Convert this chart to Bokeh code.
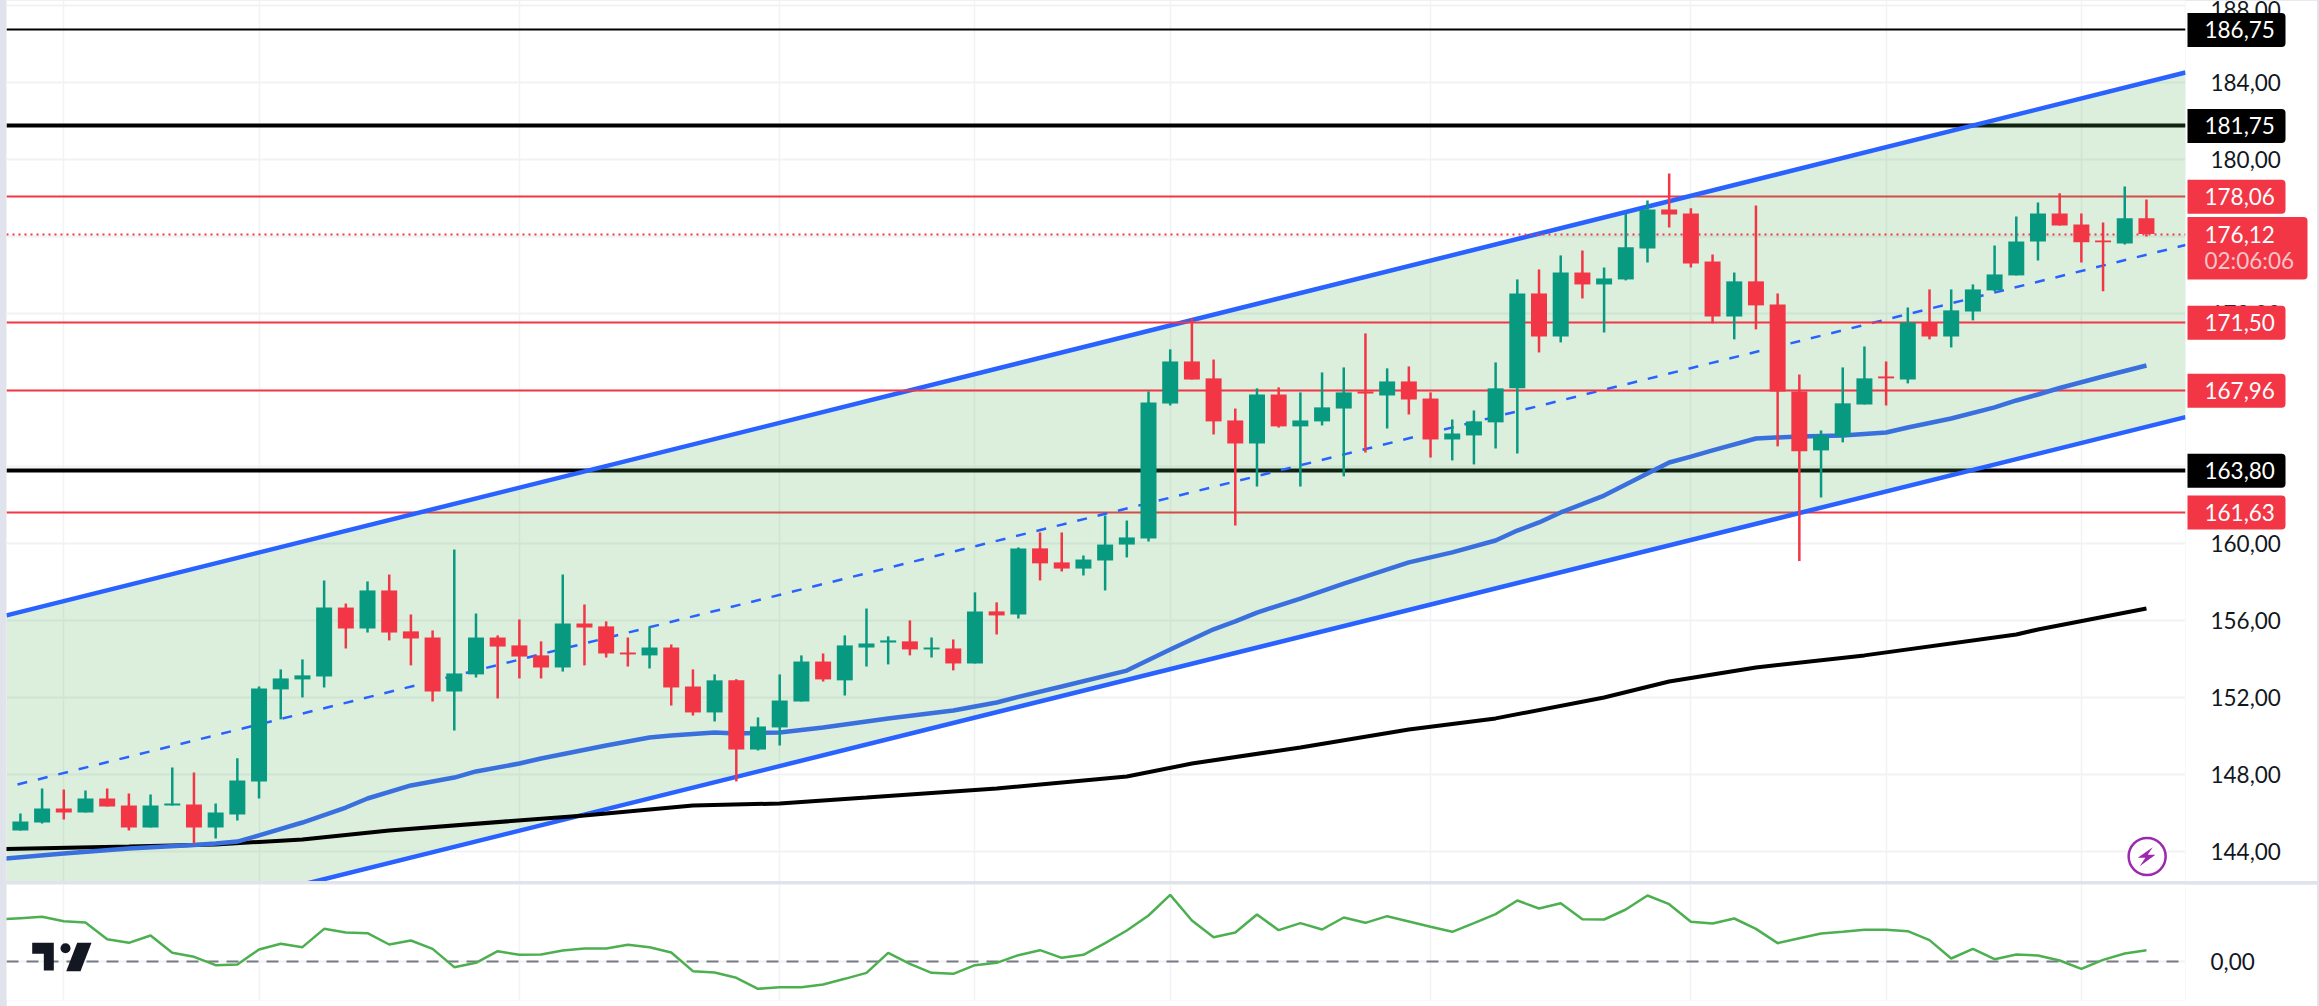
from bokeh.plotting import figure
from bokeh.layouts import column, row
from bokeh.models import Range1d, FixedTicker, ColumnDataSource
from bokeh.core.properties import value
from bokeh.embed import file_html
from bokeh.resources import INLINE

# ---------- chart values ----------
opens = [145.07,145.49,146.22,146.01,146.74,146.38,145.23,146.38,146.43,145.23,
         145.91,147.63,152.42,152.94,153.09,156.68,155.59,157.57,155.44,155.12,
         152.31,153.20,155.12,154.71,154.19,153.56,155.85,155.70,154.34,154.19,
         154.60,152.57,151.22,152.89,149.29,150.44,151.79,153.87,152.89,154.60,
         154.86,154.92,154.50,154.55,153.77,156.48,156.32,159.76,159.03,158.71,
         159.13,159.96,160.28,167.30,169.49,168.61,166.42,165.22,167.77,166.11,
         166.37,167.04,167.93,167.72,168.45,167.56,165.43,165.64,166.32,168.09,
         173.03,170.79,174.12,173.50,173.76,175.37,177.40,177.19,174.70,171.83,
         173.66,172.46,167.93,164.86,165.59,167.25,168.71,168.55,171.52,170.79,
         172.09,173.19,173.97,175.74,177.19,176.62,175.79,175.63,176.94]
highs = [145.96,147.26,147.21,147.16,147.26,147.00,146.95,148.36,148.10,146.48,
         148.83,152.57,153.46,153.98,158.09,156.89,158.04,158.40,156.32,155.49,
         159.70,156.37,155.23,156.06,154.92,158.40,156.84,155.96,155.12,155.70,
         154.76,153.46,153.20,152.95,150.96,153.20,154.19,154.29,155.23,156.63,
         155.18,156.01,155.12,155.02,157.47,156.95,159.81,160.59,160.59,159.39,
         161.47,161.21,167.93,170.12,171.73,169.59,167.04,168.09,168.14,167.88,
         168.92,169.18,170.95,169.13,169.23,167.88,166.47,166.94,169.44,173.76,
         174.28,175.01,175.27,174.38,177.19,177.87,179.28,177.46,175.06,174.12,
         177.61,173.03,168.81,165.90,169.18,170.27,169.49,172.30,173.24,173.24,
         173.50,175.53,177.04,177.77,178.24,177.19,176.73,178.60,177.92]
lows = [145.07,145.44,145.65,146.01,146.32,145.07,145.23,146.38,144.40,144.66,
        145.60,146.74,150.86,152.00,152.52,154.55,155.38,154.97,153.67,151.79,
        150.28,153.04,151.95,152.99,152.99,153.35,153.67,154.08,153.61,153.51,
        151.58,151.06,150.75,147.63,149.24,149.50,151.79,152.83,152.10,153.61,
        153.72,154.19,154.08,153.41,153.77,155.28,156.11,158.09,158.56,158.35,
        157.57,159.29,160.12,167.20,168.55,165.69,160.95,162.98,166.05,162.98,
        166.16,163.51,164.75,166.00,166.73,164.49,164.34,164.13,164.96,164.70,
        169.96,170.48,172.77,171.00,173.71,174.64,176.47,174.38,171.47,170.64,
        171.16,165.07,159.10,162.41,165.28,167.25,167.20,168.35,170.64,170.22,
        171.63,173.14,173.97,174.75,176.57,174.64,173.14,175.58,176.00]
closes = [145.54,146.22,146.01,146.74,146.32,145.23,146.38,146.48,145.23,146.01,
          147.68,152.47,152.99,153.15,156.68,155.59,157.57,155.38,155.07,152.31,
          153.25,155.12,154.65,154.13,153.56,155.85,155.64,154.29,154.24,154.60,
          152.52,151.22,152.89,149.29,150.49,151.84,153.87,152.94,154.71,154.81,
          154.97,154.50,154.60,153.77,156.48,156.27,159.76,158.98,158.71,159.18,
          159.96,160.33,167.36,169.49,168.55,166.37,165.22,167.77,166.11,166.42,
          167.10,167.88,167.82,168.45,167.51,165.43,165.74,166.37,168.09,173.03,
          170.79,174.12,173.50,173.81,175.43,177.40,177.14,174.59,171.83,173.66,
          172.41,167.93,164.81,165.64,167.31,168.61,168.61,171.52,170.79,172.15,
          173.24,174.02,175.74,177.19,176.57,175.69,175.69,176.94,176.12]

ma50_idx = [-1,2,5,8,9,10,11,13,15,16,18,20,21,23,24,27,29,30,32,33,35,37,40,43,45,46,48,51,53,55,
            56,57,59,61,64,66,68,69,70,71,73,74,76,77,78,80,82,84,86,87,89,91,92,93,94,96,98]
ma50_val = [143.59,143.88,144.14,144.32,144.40,144.50,144.82,145.49,146.27,146.74,147.42,147.83,148.15,
            148.56,148.82,149.50,149.92,150.02,150.18,150.13,150.18,150.44,150.91,151.32,151.74,152.03,
            152.57,153.40,154.50,155.55,155.96,156.42,157.15,157.93,159.03,159.55,160.17,160.69,161.11,
            161.63,162.51,163.09,164.23,164.54,164.86,165.48,165.59,165.64,165.79,166.05,166.52,167.10,
            167.46,167.77,168.11,168.71,169.28]
ma200_idx = [-1,5,9,11,13,17,26,27,31,35,39,45,51,54,59,64,68,73,76,80,85,92,93,98]
ma200_val = [144.11,144.24,144.35,144.48,144.61,145.08,145.86,145.96,146.38,146.48,146.79,147.26,147.89,
             148.56,149.40,150.33,150.91,152.00,152.83,153.56,154.19,155.28,155.54,156.63]

channel_x = [-0.641, 99.80]
channel_upper = [156.27, 184.53]
channel_lower = [138.44, 166.59]
channel_mid_x = [-0.134, 99.80]
channel_mid = [147.47, 175.55]

levels_black_thick = [181.75, 163.80]
level_black_thin = [186.75]
levels_red_under = [178.06, 161.63]
levels_red_over = [171.50, 167.96]
last_price = 176.12
last_price_text = "176,12"
countdown = "02:06:06"
tag_values = [186.75, 181.75, 178.06, 171.50, 167.96, 163.80, 161.63]
tag_texts = ["186,75", "181,75", "178,06", "171,50", "167,96", "163,80", "161,63"]
tag_colors = ["#000000", "#000000", "#f23645", "#f23645", "#f23645", "#000000", "#f23645"]

price_ticks = [144,148,152,156,160,164,168,172,176,180,184,188]
price_labels = ["144,00","148,00","152,00","156,00","160,00","","","172,00","","180,00","184,00","188,00"]
time_grid_idx = [2,11,23,35,44,53,65,77,86,95]

osc_idx = list(range(-1, 99))
osc_val = [12.5,12.9,13.3,12.0,11.6,6.6,5.5,7.7,2.5,1.3,-1.2,-1.0,3.5,5.2,4.2,9.7,8.6,8.4,5.0,6.2,
           3.7,-1.8,-0.5,3.0,1.9,2.0,3.2,3.8,3.8,4.9,4.2,2.6,-3.0,-3.4,-5.0,-8.3,-7.8,-7.8,-7.0,-5.3,
           -3.5,2.5,-0.8,-3.5,-3.8,-1.2,-0.5,1.8,3.3,1.0,1.9,5.4,9.2,13.7,19.9,12.2,7.2,8.6,14.0,9.3,
           11.4,9.5,13.1,11.5,13.5,11.9,10.3,8.8,11.4,14.1,18.2,15.8,17.4,12.6,12.5,15.5,19.7,17.1,11.8,11.3,
           12.8,9.7,5.4,6.9,8.3,8.8,9.4,9.4,9.0,6.3,0.8,3.7,0.6,2.0,1.7,0.2,-2.3,0.4,2.3,3.3]

# ---------- styling ----------
FONT = "Lato"
FS = "22.5px"
TXT = "#131722"
UP, DOWN = "#089981", "#f23645"
BLUE = "#2962ff"
GRID = "#f1f2f4"
BODY_W = 0.737

def style(fig, yticks, overrides):
    fig.xaxis.visible = False
    fig.xgrid.ticker = FixedTicker(ticks=time_grid_idx)
    fig.ygrid.ticker = FixedTicker(ticks=yticks)
    fig.xgrid.grid_line_color = GRID
    fig.ygrid.grid_line_color = GRID
    fig.xgrid.grid_line_width = 1.5
    fig.ygrid.grid_line_width = 2
    ax = fig.yaxis[0]
    ax.ticker = FixedTicker(ticks=yticks)
    ax.major_label_overrides = overrides
    ax.axis_line_color = None
    ax.major_tick_line_color = None
    ax.minor_tick_line_color = None
    ax.major_label_standoff = 19
    ax.major_label_text_font = FONT
    ax.major_label_text_font_size = FS
    ax.major_label_text_color = TXT
    fig.outline_line_color = None

# ---------- price pane ----------
p = figure(width=2311, height=881, output_backend="svg", toolbar_location=None,
           x_range=Range1d(-0.641, 99.80), y_range=Range1d(142.42, 188.28),
           y_axis_location="right", min_border=0, min_border_right=132, min_border_left=0,
           min_border_top=0, min_border_bottom=0, margin=(0, 0, 0, 6))
style(p, price_ticks, dict(zip(price_ticks, price_labels)))

p.hspan(y=level_black_thin, line_color="#000000", line_width=2)
p.hspan(y=levels_black_thick, line_color="#000000", line_width=4)
p.hspan(y=levels_red_under, line_color=DOWN, line_width=2)

p.varea(x=channel_x, y1=channel_lower, y2=channel_upper, fill_color="#4caf50", fill_alpha=0.2)
p.line(channel_x, channel_upper, line_color=BLUE, line_width=4.5)
p.line(channel_x, channel_lower, line_color=BLUE, line_width=4.5)
p.line(channel_mid_x, channel_mid, line_color=BLUE, line_width=2.5, line_dash="10 11")

p.hspan(y=levels_red_over, line_color=DOWN, line_width=2)
p.line(ma200_idx, ma200_val, line_color="#000000", line_width=4)
p.line(ma50_idx, ma50_val, line_color="#3a6fde", line_width=4.5)
p.hspan(y=[last_price], line_color=DOWN, line_width=2, line_dash="2 4")

src = ColumnDataSource(dict(
    x=list(range(len(opens))), o=opens, h=highs, l=lows, c=closes,
    top=[max(a, b) for a, b in zip(opens, closes)],
    bot=[min(a, b) for a, b in zip(opens, closes)],
    col=[UP if c >= o else DOWN for o, c in zip(opens, closes)],
))
p.segment(x0="x", y0="l", x1="x", y1="h", line_color="col", line_width=2.5, source=src)
p.vbar(x="x", width=BODY_W, top="top", bottom="bot", fill_color="col", line_color=None, source=src)

def px_x(px): return (px - 19.9) / 21.695
def px_y(py): return 160 + (543.3 - py) / 19.21
p.scatter([px_x(2146.7)], [px_y(856)], marker="circle", size=37, fill_color="#ffffff",
          line_color="#9c27b0", line_width=2.5)
bolt = [(2152.3, 846.7), (2137.3, 857.3), (2145, 857.3), (2139.3, 865.7), (2155, 854.3), (2147.3, 854.3)]
p.patch([px_x(a) for a, b in bolt], [px_y(b) for a, b in bolt], fill_color="#9c27b0", line_color=None)

# ---------- transparent strip lying over the price axis, for the value tags ----------
side = figure(width=132, height=881, output_backend="svg", toolbar_location=None,
              x_range=Range1d(2185, 2317), y_range=p.y_range,
              x_axis_location=None, y_axis_location=None, min_border=0,
              background_fill_color=None, border_fill_color=None, outline_line_color=None,
              margin=(0, 2, 0, -132))
side.grid.visible = False
HALF = 17 / 19.21  # half a tag's height, in price units
side.quad(left=2187, right=2285, top=[v + HALF for v in tag_values], bottom=[v - HALF for v in tag_values],
          fill_color=tag_colors, line_color=None, border_radius=(0, 4, 4, 0))
side.quad(left=2187, right=2307, top=[last_price + HALF], bottom=[last_price - 45.4 / 19.21],
          fill_color=DOWN, line_color=None, border_radius=(0, 4, 4, 0))
side.text(x=2204, y=tag_values, text=tag_texts, text_color="#ffffff", text_font=value(FONT),
          text_font_size=FS, text_baseline="middle", text_align="left")
side.text(x=[2204], y=[last_price], text=[last_price_text], text_color="#ffffff", text_font=value(FONT),
          text_font_size=FS, text_baseline="middle", text_align="left")
side.text(x=[2204], y=[last_price - 26.4 / 19.21], text=[countdown], text_color="#fbc3c8", text_font=value(FONT),
          text_font_size=FS, text_baseline="middle", text_align="left")

# ---------- oscillator pane ----------
q = figure(width=2311, height=122, output_backend="svg", toolbar_location=None,
           x_range=Range1d(-0.641, 99.80), y_range=Range1d(-11.8, 23.0),
           y_axis_location="right", min_border=0, min_border_right=132, min_border_left=0,
           min_border_top=0, min_border_bottom=6, margin=(0, 2, 0, 6))
style(q, [0], {0: "0,00"})
q.hspan(y=[0], line_color="#787b86", line_width=2, line_dash="12 8")
q.line(osc_idx, osc_val, line_color="#4caf50", line_width=2.5)

def oy(py): return (960.67 - py) / 3.333
t_shape = [(31.7, 942.3), (53.3, 942.3), (53.3, 970), (43.3, 970), (43.3, 953.3), (31.7, 953.3)]
slash = [(76.7, 942.3), (91, 942.3), (80, 970.7), (65.7, 970.7)]
q.patch([px_x(a) for a, b in t_shape], [oy(b) for a, b in t_shape], fill_color=TXT, line_color=None)
q.patch([px_x(a) for a, b in slash], [oy(b) for a, b in slash], fill_color=TXT, line_color=None)
q.scatter([px_x(65)], [oy(947.7)], marker="circle", size=10, fill_color=TXT, line_color=None)

page = column(row(p, side), q, spacing=3, styles={"background-color": "#e0e3eb"})
open("out.html", "w").write(file_html(page, INLINE))
